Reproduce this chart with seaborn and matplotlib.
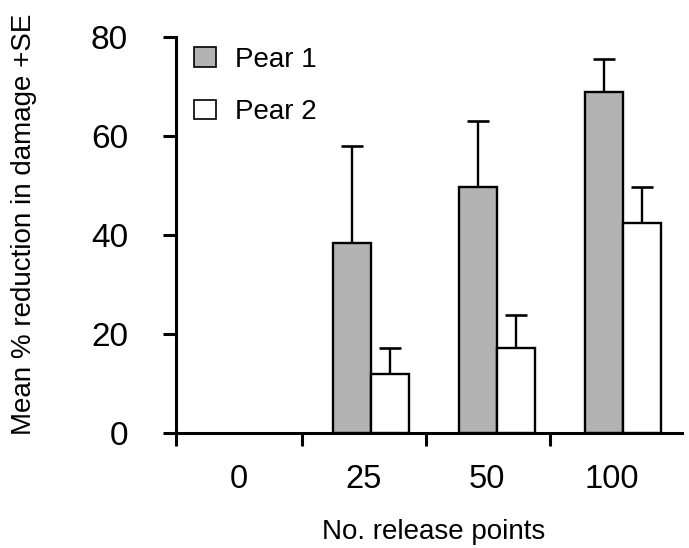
import numpy as np
import pandas as pd
import matplotlib
matplotlib.use("Agg")
import matplotlib.pyplot as plt
import seaborn as sns

# ---- data ----
categories = ["0", "25", "50", "100"]
series = ["Pear 1", "Pear 2"]
pear1_mean = [None, 38.4, 49.7, 68.9]
pear1_se = [None, 19.6, 13.3, 6.7]
pear2_mean = [None, 11.9, 17.2, 42.4]
pear2_se = [None, 5.3, 6.6, 7.3]
x_label = "No. release points"
y_label = "Mean % reduction in damage +SE"
y_ticks = [0, 20, 40, 60, 80]

rows = []
for s, means, ses in [(series[0], pear1_mean, pear1_se), (series[1], pear2_mean, pear2_se)]:
    for c, m, e in zip(categories, means, ses):
        if m is not None:
            rows.append({"points": c, "series": s, "mean": m, "se": e})
df = pd.DataFrame(rows)

sns.set_style("white")
plt.rcParams["font.family"] = ["Liberation Sans", "DejaVu Sans"]
plt.rcParams["text.color"] = "black"
plt.rcParams["axes.labelcolor"] = "black"
plt.rcParams["xtick.color"] = "black"
plt.rcParams["ytick.color"] = "black"

fig = plt.figure(figsize=(6.89, 5.48), dpi=100)
ax = fig.add_axes([176 / 689, 1 - 433 / 548, (682 - 176) / 689, (433 - 37) / 548])

sns.barplot(data=df, x="points", y="mean", hue="series", order=categories,
            hue_order=series, palette=["#b3b3b3", "#ffffff"], edgecolor="black",
            linewidth=1.7, width=0.6, errorbar=None, ax=ax, legend=True)

# error bars (upper only) from bar geometry
se_map = {(r.series, r.points): r.se for r in df.itertuples()}
for container, s in zip(ax.containers, series):
    present = [c for c in categories if (s, c) in se_map]
    xs, hs, es = [], [], []
    for bar, c in zip(container, present):
        xs.append(bar.get_x() + bar.get_width() / 2)
        hs.append(bar.get_height())
        es.append(se_map[(s, c)])
    line, caps, bars = ax.errorbar(xs, hs, yerr=[np.zeros(len(es)), es], fmt="none",
                                   ecolor="black", elinewidth=1.7, capsize=8,
                                   capthick=1.9, zorder=1)
    if len(caps) == 2:
        caps[0].set_visible(False)

ax.set_xlim(-0.55, 3.47)
ax.set_ylim(0, 80)
ax.set_yticks(y_ticks)
ax.set_yticklabels([str(t) for t in y_ticks], fontsize=24)

# labels centred in the category slots, ticks at slot boundaries
ax.set_xticks([-0.05, 0.94, 1.92, 2.91])
ax.set_xticklabels(categories, fontsize=23.5)
ax.set_xticks([-0.55, 0.45, 1.44, 2.42], minor=True)
ax.tick_params(axis="x", which="major", bottom=True, length=0, pad=22)
ax.tick_params(axis="x", which="minor", bottom=True, length=9.5, width=2.2,
               direction="out", color="black")
ax.tick_params(axis="y", which="major", left=True, length=9.5, width=2.2,
               direction="out", color="black", pad=25)

for side in ["top", "right"]:
    ax.spines[side].set_visible(False)
for side in ["left", "bottom"]:
    ax.spines[side].set_linewidth(2.2)
    ax.spines[side].set_color("black")

ax.set_xlabel(x_label, fontsize=20)
ax.set_ylabel(y_label, fontsize=20)
ax.xaxis.set_label_coords((434 - 176) / 506, (433 - 519) / 396)
ax.yaxis.set_label_coords((37 - 176) / 506, (433 - 224) / 396)

leg = ax.legend(loc="upper left", bbox_to_anchor=(0.035, 0.975), frameon=False,
                fontsize=20, handlelength=0.8, handleheight=0.72, handletextpad=0.7,
                labelspacing=0.95, borderpad=0, borderaxespad=0)
for h in leg.legend_handles:
    h.set_edgecolor("black")
    h.set_linewidth(1.2)

fig.savefig("out.png", dpi=100)
